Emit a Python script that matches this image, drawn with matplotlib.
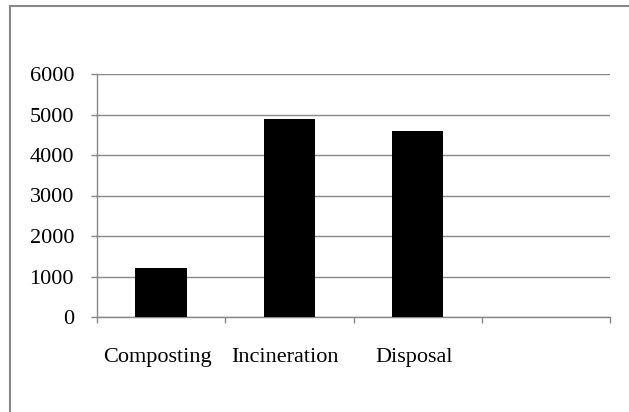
import matplotlib.pyplot as plt
from matplotlib.lines import Line2D
from matplotlib.transforms import ScaledTranslation

# данные
categories = ['Composting', 'Incineration', 'Disposal']
values = [1200, 4900, 4600]
y_ticks = [0, 1000, 2000, 3000, 4000, 5000, 6000]
n_slots = 4  # четвёртая категория пустая

plt.rcParams['font.family'] = ['Liberation Serif', 'DejaVu Serif']

fig = plt.figure(figsize=(6.29, 4.12), dpi=100)
W, H = 629, 412
ax = fig.add_axes([97 / W, (H - 317) / H, (610 - 97) / W, (317 - 74) / H])

gray = '#888888'
centers = [i + 0.5 for i in range(len(categories))]
ax.bar(centers, values, width=0.4, color='black', zorder=3)

ax.set_xlim(0, n_slots)
ax.set_ylim(0, 6000)
ax.set_yticks(y_ticks)
ax.yaxis.grid(True, color=gray, linewidth=1.0)
ax.set_axisbelow(True)

# деления на границах категорий, подписи по центрам
ax.set_xticks(range(n_slots + 1))
ax.set_xticklabels([])
ax.set_xticks(centers, minor=True)
ax.set_xticklabels(categories, minor=True, fontsize=16)
ax.tick_params(axis='x', which='minor', length=0, pad=22.5)
ax.tick_params(axis='x', which='major', length=4.5, width=1.0, color=gray, direction='out')
ax.tick_params(axis='y', length=4.5, width=1.0, color=gray, pad=12, labelsize=16)

# подписи в оригинале чуть сдвинуты влево
shift = ScaledTranslation(-4 / 100, 0, fig.dpi_scale_trans)
for lbl in ax.get_xticklabels(minor=True):
    lbl.set_transform(lbl.get_transform() + shift)

for side in ['top', 'right']:
    ax.spines[side].set_visible(False)
ax.spines['left'].set_color(gray)
ax.spines['bottom'].set_color(gray)
ax.spines['left'].set_linewidth(1.0)
ax.spines['bottom'].set_linewidth(1.0)

# рамка области диаграммы (видна только сверху и слева)
fig.add_artist(Line2D([9.5 / W, 1.01], [1 - 5.5 / H, 1 - 5.5 / H], color=gray, linewidth=1.5))
fig.add_artist(Line2D([9.5 / W, 9.5 / W], [-0.01, 1 - 5.5 / H], color=gray, linewidth=1.5))

fig.savefig('out.png', dpi=100)
